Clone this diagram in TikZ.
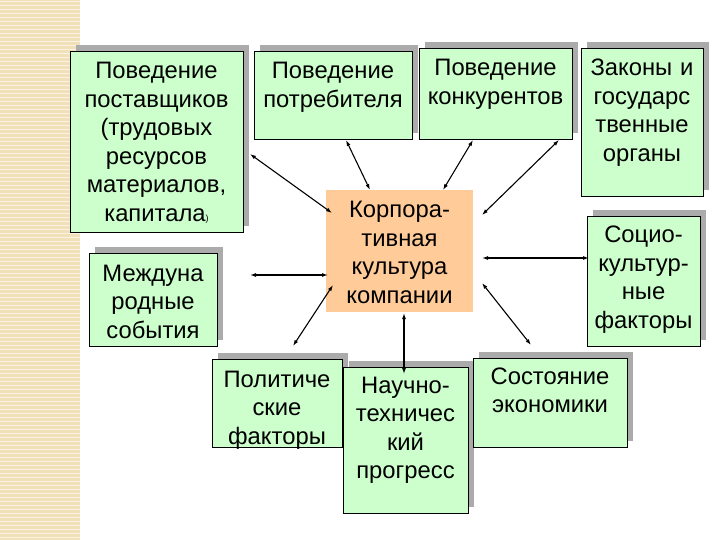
\documentclass[tikz,border=0pt]{standalone}
\usepackage{fontspec}
\setmainfont{Liberation Sans}
\usetikzlibrary{arrows.meta}
\definecolor{boxgreen}{HTML}{CCFFCC}
\definecolor{corefill}{HTML}{FFCC99}
\definecolor{shadowgray}{HTML}{ABABAB}
\definecolor{stripbase}{HTML}{F1E1BB}
\definecolor{stripline}{HTML}{FBF3E0}
\tikzset{
  gbox/.style={draw=black, fill=boxgreen, line width=0.8pt, inner sep=0pt, outer sep=0pt},
  cbox/.style={fill=corefill, draw=none, inner sep=0pt, outer sep=0pt},
  shade/.style={fill=shadowgray},
  txt/.style={anchor=base, inner sep=0pt, text width=200pt, align=center,
    font=\fontsize{23.8}{28.5}\selectfont},
  conn/.style={{Latex[length=6pt,width=4pt]}-{Latex[length=6pt,width=4pt]}, line width=1.1pt}
}
% name, x1, y1, x2, y2
\newcommand\mygbox[5]{%
  \fill[shade] ({#2+6},{#3-6}) rectangle ({#4+6},{#5-6});
  \node[gbox, minimum width={#4pt-#2pt}, minimum height={#5pt-#3pt}] (#1) at ({(#2+#4)/2},{(#3+#5)/2}) {};
}
\begin{document}
\begin{tikzpicture}[x=1pt,y=-1pt]
\useasboundingbox (0,0) rectangle (720,540);
\fill[white] (0,0) rectangle (720,540);
% left strip
\fill[stripbase] (0,0) rectangle (80,540);
\foreach \k in {0,...,134} {
  \fill[stripline] (0,{\k*4+1}) rectangle (80,{\k*4+2.4});
}
% boxes
\mygbox{sup}{70}{51}{243}{232}
\node[txt] (supt) at (156.5,79) {Поведение\\поставщиков\\(трудовых\\ресурсов\\материалов,\\капитала{\fontsize{9}{9}\selectfont)}};
\mygbox{cons}{254}{51}{412}{139}
\node[txt] (const) at (333,79) {Поведение\\потребителя};
\mygbox{comp}{419}{48}{572}{139}
\node[txt] (compt) at (495.5,76) {Поведение\\конкурентов};
\mygbox{law}{581}{48}{703}{196}
\node[txt] (lawt) at (642,76) {Законы и\\государс\\твенные\\органы};
\mygbox{soc}{587}{216}{700}{346}
\node[txt] (soct) at (643.5,243) {Социо-\\культур-\\ные\\факторы};
\mygbox{intl}{89}{253}{217}{346}
\node[txt] (intlt) at (153,281) {Междуна\\родные\\события};
\mygbox{pol}{212}{359}{342}{447}
\node[txt] (polt) at (277,387) {Политиче\\ские\\факторы};
\mygbox{sci}{343}{367}{468}{513}
\node[txt] (scit) at (405.5,393) {Научно-\\техничес\\кий\\прогресс};
\mygbox{econ}{473}{358}{627}{447}
\node[txt] (econt) at (550,384) {Состояние\\экономики};
% core
\node[cbox, minimum width=147pt, minimum height=122pt] (core) at (399.5,251) {};
\node[txt] (coret) at (399.5,218) {Корпора-\\тивная\\культура\\компании};
% connector ends
\coordinate (a1s) at (250,154); \coordinate (a1e) at (332,213);
\coordinate (a2s) at (346,140); \coordinate (a2e) at (370,190);
\coordinate (a3s) at (473,140); \coordinate (a3e) at (443,190);
\coordinate (a4s) at (559,140); \coordinate (a4e) at (482,215);
\coordinate (a5s) at (482,258); \coordinate (a5e) at (589,258);
\coordinate (a6s) at (250,275); \coordinate (a6e) at (328,275);
\coordinate (a7s) at (333,285); \coordinate (a7e) at (293,346);
\coordinate (a8s) at (404,313); \coordinate (a8e) at (404,374);
\coordinate (a9s) at (482,283); \coordinate (a9e) at (531,345);
\foreach \i in {1,...,9} { \draw[conn] (a\i s) -- (a\i e); }
\end{tikzpicture}
\end{document}
